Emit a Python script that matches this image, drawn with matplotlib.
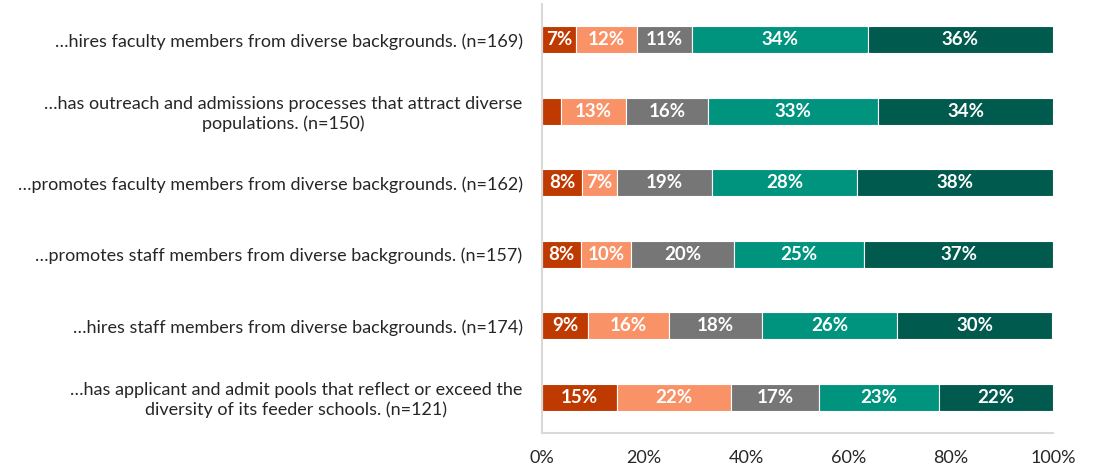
import matplotlib

matplotlib.use("Agg")
import matplotlib.pyplot as plt
import numpy as np

# categories top -> bottom
labels = [
    "…hires faculty members from diverse backgrounds. (n=169)",
    "…has outreach and admissions processes that attract diverse\npopulations. (n=150)",
    "…promotes faculty members from diverse backgrounds. (n=162)",
    "…promotes staff members from diverse backgrounds. (n=157)",
    "…hires staff members from diverse backgrounds. (n=174)",
    "…has applicant and admit pools that reflect or exceed the\ndiversity of its feeder schools. (n=121)",
]

# five response levels, percent of respondents
seg1 = [6.7, 3.7, 7.8, 7.6, 9.0, 14.6]
seg2 = [11.9, 12.8, 6.9, 9.8, 15.9, 22.4]
seg3 = [10.8, 15.9, 18.6, 20.2, 18.2, 17.3]
seg4 = [34.3, 33.4, 28.3, 25.4, 26.4, 23.3]
seg5 = [36.3, 34.2, 38.4, 37.0, 30.4, 22.4]

colors = ["#BF3A00", "#FA9268", "#767676", "#00947F", "#005A4E"]

plt.rcParams["font.family"] = ["Lato", "DejaVu Sans"]

fig = plt.figure(figsize=(11.01, 4.69), dpi=100)
ax = fig.add_axes([542 / 1101, 1 - 433 / 469, (1053 - 542) / 1101, (433 - 4) / 469])

y = np.arange(len(labels))
left = np.zeros(len(labels))
for vals, color in zip([seg1, seg2, seg3, seg4, seg5], colors):
    vals = np.array(vals)
    ax.barh(y, vals, left=left, height=0.38, color=color, edgecolor="white", linewidth=0.8)
    for yi, l, v in zip(y, left, vals):
        if v >= 5:
            ax.text(l + v / 2, yi, f"{v:.0f}%", ha="center", va="center",
                    color="white", fontsize=13.5, fontweight="bold")
    left += vals

ax.set_ylim(len(labels) - 0.5, -0.5)
ax.set_xlim(0, 100)
ax.set_yticks(y)
ax.set_yticklabels(labels, fontsize=13, color="#262626", multialignment="center")
ax.set_xticks(np.arange(0, 101, 20))
ax.set_xticklabels([f"{t}%" for t in range(0, 101, 20)], fontsize=13, color="#262626")
ax.tick_params(axis="both", length=0)
ax.tick_params(axis="y", pad=14)
ax.tick_params(axis="x", pad=12)
for side in ("top", "right"):
    ax.spines[side].set_visible(False)
for side in ("left", "bottom"):
    ax.spines[side].set_color("#D9D9D9")
    ax.spines[side].set_linewidth(1.5)

fig.savefig("out.png", dpi=100)
